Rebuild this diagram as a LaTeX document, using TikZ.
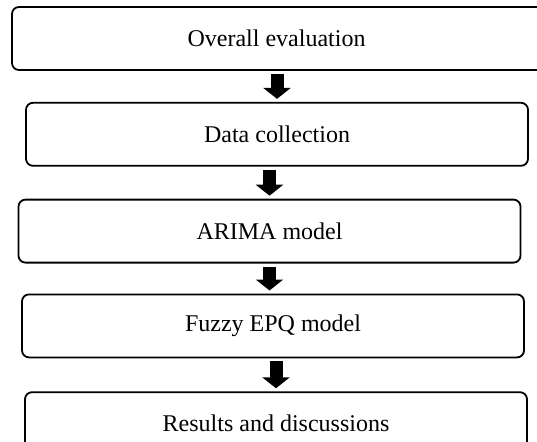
\documentclass[tikz,border=0pt]{standalone}
\usepackage{fontspec}
\setmainfont{Liberation Serif}
\usetikzlibrary{arrows.meta, positioning}
\tikzset{
  stage/.style={
    minimum width=502pt,
    minimum height=63pt,
    align=center,
    draw=black,
    line width=1.8pt,
    rounded corners=7pt,
    font=\fontsize{24}{28}\selectfont
  },
  flow/.style={draw, line width=13pt, -{Triangle[length=11pt, width=27pt]},
    shorten <=3pt, shorten >=3pt}
}
\begin{document}
\begin{tikzpicture}[x=1pt, y=1pt, node distance=31pt]
  \useasboundingbox (0,0) rectangle (537,-441);
  \clip (0,0) rectangle (537,-441);
  % first box runs off the right edge
  \node (eval) [stage, minimum width=540pt] at (282,-38.5) {\hspace*{-11pt}Overall evaluation};
  \node (data) [stage, below=of eval, xshift=-5pt] {Data collection};
  \node (arima) [stage, below=32pt of data, xshift=-7.5pt] {ARIMA model};
  \node (fuzzy) [stage, below=30pt of arima, xshift=3.5pt] {Fuzzy EPQ model};
  \node (results) [stage, below=33pt of fuzzy, xshift=3pt] {Results and discussions};
  \draw [flow] (eval.south -| data) -- (data);
  \draw [flow] (data.south -| arima) -- (arima);
  \draw [flow] (arima) -- (arima |- fuzzy.north);
  \draw [flow] (fuzzy.south -| results) -- (results);
\end{tikzpicture}
\end{document}
